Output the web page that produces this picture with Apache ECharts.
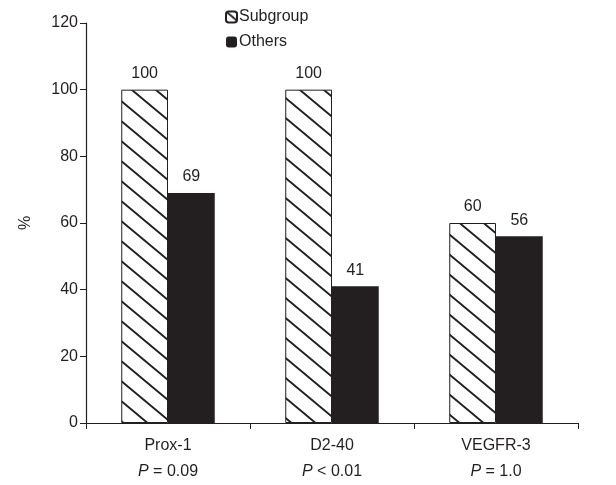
<!DOCTYPE html>
<html>
<head>
<meta charset="utf-8">
<script src="https://cdn.jsdelivr.net/npm/echarts@6/dist/echarts.min.js"></script>
<style>
html, body { margin: 0; padding: 0; background: #fff; }
#chart { width: 616px; height: 485px; }
</style>
</head>
<body>
<div id="chart"></div>
<script>
const categories = ['Prox-1', 'D2-40', 'VEGFR-3'];
const pValues = ['= 0.09', '< 0.01', '= 1.0'];
const subgroup = [100, 100, 60];
const others = [69, 41, 56];

// hatch tile for the subgroup bars ("\" lines, wide spacing)
function hatch() {
    const w = 24, h = 20;
    const c = document.createElement('canvas');
    c.width = w; c.height = h;
    const ctx = c.getContext('2d');
    ctx.fillStyle = '#fff';
    ctx.fillRect(0, 0, w, h);
    ctx.strokeStyle = '#231f20';
    ctx.lineWidth = 1.9;
    ctx.beginPath();
    for (let k = -1; k <= 1; k++) {
        ctx.moveTo(-w + k * w, -h);
        ctx.lineTo(2 * w + k * w, 2 * h);
    }
    ctx.stroke();
    return c;
}

const myChart = echarts.init(document.getElementById('chart'), null, { renderer: 'canvas' });
const font = 'Liberation Sans, Arial, sans-serif';
const ink = '#231f20';

const option = {
    animation: false,
    textStyle: { fontFamily: font },
    legend: {
        orient: 'vertical',
        left: 220, top: 4,
        itemWidth: 11, itemHeight: 11,
        itemGap: 9,
        textStyle: { fontSize: 16, color: ink, padding: [0, 0, 0, -3] },
        data: ['Subgroup', 'Others']
    },
    grid: { left: 86, right: 38, top: 23, bottom: 62 },
    xAxis: {
        type: 'category',
        data: categories,
        axisLine: { lineStyle: { color: ink, width: 1.2 } },
        axisTick: { show: true, length: 6, lineStyle: { color: ink } },
        axisLabel: {
            fontSize: 16, color: ink, margin: 10, lineHeight: 26,
            formatter: function (v, i) {
                return v + '\n{i|P} ' + pValues[i];
            },
            rich: { i: { fontStyle: 'italic', fontSize: 16, color: ink } }
        }
    },
    yAxis: {
        type: 'value',
        min: 0, max: 120, interval: 20,
        name: '%',
        nameLocation: 'middle',
        nameGap: 52,
        nameTextStyle: { fontSize: 16, color: ink },
        axisLine: { show: true, lineStyle: { color: ink, width: 1.2 } },
        axisTick: { show: true, length: 6, lineStyle: { color: ink } },
        axisLabel: { fontSize: 16, color: ink, margin: 8 },
        splitLine: { show: false }
    },
    series: [
        {
            name: 'Subgroup',
            type: 'bar',
            data: subgroup,
            barGap: '0%',
            barCategoryGap: '43%',
            itemStyle: { color: { image: hatch(), repeat: 'repeat' }, borderColor: ink, borderWidth: 1 },
            label: { show: true, position: 'top', distance: 8, fontSize: 16, color: ink }
        },
        {
            name: 'Others',
            type: 'bar',
            data: others,
            itemStyle: { color: ink },
            label: { show: true, position: 'top', distance: 8, fontSize: 16, color: ink }
        }
    ]
};

myChart.setOption(option, true);
</script>
</body>
</html>
